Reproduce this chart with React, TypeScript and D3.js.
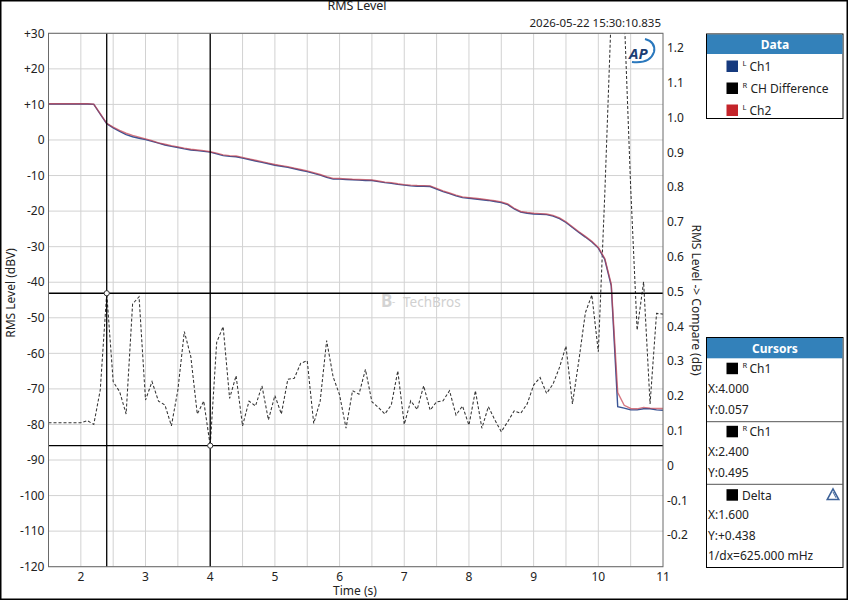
import React from "react";
import * as d3 from "d3";

const TIME = [1.5, 1.6, 1.7, 1.8, 1.9, 2.0, 2.1, 2.2, 2.3, 2.4, 2.5, 2.6, 2.7, 2.8, 2.9, 3.0, 3.1, 3.2, 3.3, 3.4, 3.5, 3.6, 3.7, 3.8, 3.9, 4.0, 4.1, 4.2, 4.3, 4.4, 4.5, 4.6, 4.7, 4.8, 4.9, 5.0, 5.1, 5.2, 5.3, 5.4, 5.5, 5.6, 5.7, 5.8, 5.9, 6.0, 6.1, 6.2, 6.3, 6.4, 6.5, 6.6, 6.7, 6.8, 6.9, 7.0, 7.1, 7.2, 7.3, 7.4, 7.5, 7.6, 7.7, 7.8, 7.9, 8.0, 8.1, 8.2, 8.3, 8.4, 8.5, 8.6, 8.7, 8.8, 8.9, 9.0, 9.1, 9.2, 9.3, 9.4, 9.5, 9.6, 9.7, 9.8, 9.9, 10.0, 10.1, 10.2, 10.3, 10.4, 10.5, 10.6, 10.7, 10.8, 10.9, 11.0];

// Ch1 (left axis, dBV)
const CH1 = [10.1, 10.1, 10.1, 10.1, 10.1, 10.1, 10.1, 10.0, 7.3, 4.6, 3.4, 2.4, 1.5, 0.9, 0.5, 0.1, -0.4, -0.9, -1.4, -1.8, -2.1, -2.5, -2.8, -3.0, -3.2, -3.4, -3.9, -4.4, -4.6, -4.7, -5.1, -5.5, -5.9, -6.3, -6.7, -7.1, -7.4, -7.7, -8.1, -8.5, -8.9, -9.4, -9.9, -10.5, -11.0, -11.0, -11.1, -11.2, -11.3, -11.4, -11.4, -11.7, -12.0, -12.2, -12.5, -12.7, -12.9, -13.0, -13.0, -13.1, -13.8, -14.5, -15.1, -15.7, -16.2, -16.4, -16.6, -16.8, -17.0, -17.3, -17.6, -18.2, -19.4, -20.3, -20.6, -20.8, -20.9, -21.0, -21.4, -22.1, -23.2, -24.6, -26.0, -27.3, -28.7, -30.4, -33.6, -41.0, -75.0, -75.4, -75.9, -75.9, -75.6, -75.6, -75.9, -76.0];

// Ch2 (left axis, dBV)
const CH2 = [10.2, 10.2, 10.2, 10.2, 10.2, 10.2, 10.2, 10.1, 7.4, 4.7, 3.6, 2.7, 1.9, 1.3, 0.8, 0.3, -0.2, -0.8, -1.2, -1.6, -1.95, -2.3, -2.6, -2.8, -3.0, -3.3, -3.7, -4.2, -4.4, -4.5, -4.9, -5.3, -5.7, -6.1, -6.5, -6.9, -7.2, -7.5, -7.9, -8.3, -8.7, -9.2, -9.7, -10.3, -10.8, -10.85, -10.95, -11.05, -11.1, -11.15, -11.25, -11.55, -11.85, -12.0, -12.3, -12.55, -12.7, -12.8, -12.85, -12.9, -13.6, -14.3, -14.9, -15.5, -16.0, -16.2, -16.4, -16.6, -16.85, -17.1, -17.4, -18.0, -19.2, -20.1, -20.4, -20.6, -20.7, -20.8, -21.2, -21.9, -23.0, -24.4, -25.8, -27.1, -28.5, -30.2, -33.3, -40.5, -71.0, -74.6, -75.5, -75.6, -75.2, -75.4, -75.5, -75.5];

// CH Difference (right axis, dB)
const DIFF = [0.123, 0.123, 0.123, 0.123, 0.123, 0.123, 0.129, 0.118, 0.217, 0.495, 0.241, 0.212, 0.148, 0.464, 0.485, 0.188, 0.241, 0.185, 0.174, 0.114, 0.217, 0.385, 0.313, 0.148, 0.185, 0.057, 0.354, 0.399, 0.193, 0.258, 0.114, 0.185, 0.171, 0.229, 0.131, 0.201, 0.148, 0.248, 0.251, 0.294, 0.301, 0.121, 0.185, 0.359, 0.255, 0.203, 0.107, 0.215, 0.205, 0.276, 0.183, 0.167, 0.148, 0.174, 0.272, 0.118, 0.186, 0.161, 0.229, 0.159, 0.183, 0.186, 0.215, 0.145, 0.171, 0.116, 0.215, 0.107, 0.169, 0.131, 0.097, 0.126, 0.157, 0.150, 0.177, 0.231, 0.253, 0.207, 0.234, 0.282, 0.343, 0.177, 0.303, 0.439, 0.490, 0.327, 0.78, 1.30, 2.0, 1.30, 0.80, 0.389, 0.528, 0.177, 0.437, 0.435];

const X_TICKS = [2, 3, 4, 5, 6, 7, 8, 9, 10, 11];
const X_GRID = [2, 2.5, 3, 3.5, 4, 4.5, 5, 5.5, 6, 6.5, 7, 7.5, 8, 8.5, 9, 9.5, 10, 10.5];
const Y_LEFT_TICKS = [30, 20, 10, 0, -10, -20, -30, -40, -50, -60, -70, -80, -90, -100, -110, -120];
const Y_LEFT_LABELS = ["+30", "+20", "+10", "0", "-10", "-20", "-30", "-40", "-50", "-60", "-70", "-80", "-90", "-100", "-110", "-120"];
const Y_RIGHT_TICKS = [1.2, 1.1, 1.0, 0.9, 0.8, 0.7, 0.6, 0.5, 0.4, 0.3, 0.2, 0.1, 0, -0.1, -0.2];
const Y_RIGHT_LABELS = ["1.2", "1.1", "1.0", "0.9", "0.8", "0.7", "0.6", "0.5", "0.4", "0.3", "0.2", "0.1", "0", "-0.1", "-0.2"];

const CURSOR_A = { x: 4.0, y: 0.057 };
const CURSOR_B = { x: 2.4, y: 0.495 };

const LEGEND = [
  { sup: "L", name: "Ch1", color: "#163a7e" },
  { sup: "R", name: "CH Difference", color: "#000000" },
  { sup: "L", name: "Ch2", color: "#c4242a" },
];

const FONT = "'Segoe UI', 'Noto Sans', 'Open Sans', sans-serif";

export default function App() {
  const L = 48.5, R = 663, T = 33.3, B = 566.7;
  const x = d3.scaleLinear().domain([1.5, 11]).range([L, R]);
  const yL = d3.scaleLinear().domain([-120, 30]).range([B, T]);
  const yR = d3.scaleLinear().domain([-0.2908, 1.242]).range([B, T]);

  const idx = TIME.map((_, i) => i);
  const lineCh1 = d3.line<number>().x((i) => x(TIME[i])).y((i) => yL(CH1[i]))(idx) || "";
  const lineCh2 = d3.line<number>().x((i) => x(TIME[i])).y((i) => yL(CH2[i]))(idx) || "";
  const lineDiff = d3.line<number>().x((i) => x(TIME[i])).y((i) => yR(DIFF[i]))(idx) || "";

  const textColor = "#222";

  return (
    <svg
      width={848}
      height={600}
      style={{ position: "absolute", left: 0, top: 0, background: "#fff" }}
      fontFamily={FONT}
    >
      <defs>
        <clipPath id="plotClip">
          <rect x={L} y={T} width={R - L} height={B - T} />
        </clipPath>
      </defs>
      <rect x={0} y={0} width={848} height={600} fill="#fff" />
      <rect x={0.75} y={0.75} width={846.5} height={598.5} fill="none" stroke="#000" strokeWidth={1.5} />

      {/* title */}
      <text x={357} y={10} fontSize={12.5} textAnchor="middle" fill={textColor}>RMS Level</text>
      <text x={661} y={26.5} fontSize={11.5} textAnchor="end" fill={textColor}>2026-05-22 15:30:10.835</text>

      {/* grid */}
      {X_GRID.map((g) => (
        <line key={"xg" + g} x1={x(g)} x2={x(g)} y1={T} y2={B} stroke="#d2d2d2" strokeWidth={1} />
      ))}
      {Y_LEFT_TICKS.map((g) => (
        <line key={"yg" + g} x1={L} x2={R} y1={yL(g)} y2={yL(g)} stroke="#d2d2d2" strokeWidth={1} />
      ))}

      {/* watermark */}
      <g opacity={0.9}>
        <text x={381} y={307} fontSize={17} fontWeight="bold" fill="#cfcfcf">B</text>
        <text x={392} y={305} fontSize={10} fill="#cfcfcf">-</text>
        <text x={403} y={306.5} fontSize={13.5} fill="#cccccc">TechBros</text>
      </g>

      {/* AP logo */}
      <g>
        <path d="M 632 62 Q 650 64 654 52 Q 656 42 645 39" fill="none" stroke="#2a78bd" strokeWidth={2} />
        <text x={629} y={59} fontSize={15} fontWeight="bold" fontStyle="italic" fill="#1b3d72">AP</text>
      </g>

      {/* data */}
      <g clipPath="url(#plotClip)">
        <path d={lineDiff} fill="none" stroke="#333" strokeWidth={1.05} strokeDasharray="3,2" />
        <path d={lineCh1} fill="none" stroke="#3a5596" strokeWidth={1.4} />
        <path d={lineCh2} fill="none" stroke="#c4404e" strokeWidth={1.4} strokeOpacity={0.7} />
      </g>

      {/* cursors */}
      {[CURSOR_A, CURSOR_B].map((c, i) => (
        <g key={"cur" + i}>
          <line x1={x(c.x)} x2={x(c.x)} y1={T} y2={B} stroke="#000" strokeWidth={1.3} />
          <line x1={L} x2={R} y1={yR(c.y)} y2={yR(c.y)} stroke="#000" strokeWidth={1.3} />
          <circle cx={x(c.x)} cy={yR(c.y)} r={2.6} fill="#fff" stroke="#333" strokeWidth={1} />
        </g>
      ))}

      {/* plot border */}
      <rect x={L} y={T} width={R - L} height={B - T} fill="none" stroke="#6a6a6a" strokeWidth={1} />

      {/* left ticks */}
      {Y_LEFT_TICKS.map((t, i) => (
        <text key={"yl" + t} x={44.5} y={yL(t) + 4.2} fontSize={12} textAnchor="end" fill={textColor}>
          {Y_LEFT_LABELS[i]}
        </text>
      ))}
      {/* right ticks */}
      {Y_RIGHT_TICKS.map((t, i) => (
        <text key={"yr" + t} x={667} y={yR(t) + 4.2} fontSize={12} textAnchor="start" fill={textColor}>
          {Y_RIGHT_LABELS[i]}
        </text>
      ))}
      {/* x ticks */}
      {X_TICKS.map((t) => (
        <text key={"xt" + t} x={x(t)} y={581} fontSize={12} textAnchor="middle" fill={textColor}>
          {t}
        </text>
      ))}
      <text x={355} y={594.5} fontSize={12} textAnchor="middle" fill={textColor}>Time (s)</text>
      <text transform="translate(15,293) rotate(-90)" fontSize={12} textAnchor="middle" fill={textColor}>
        RMS Level (dBV)
      </text>
      <text transform="translate(692,300) rotate(90)" fontSize={12} textAnchor="middle" fill={textColor}>
        RMS Level -&gt; Compare (dB)
      </text>

      {/* Data legend */}
      <g>
        <rect x={706.5} y={34} width={136.5} height={84.5} fill="#fff" stroke="#000" strokeWidth={1} />
        <rect x={707} y={34.5} width={135.5} height={19.5} fill="#3381ba" />
        <text x={775} y={48.5} fontSize={12} fontWeight="bold" textAnchor="middle" fill="#fff">Data</text>
        {LEGEND.map((d, i) => {
          const cy = 66 + i * 22;
          return (
            <g key={"lg" + i}>
              <rect x={726.5} y={cy - 5.5} width={11.5} height={11.5} fill={d.color} />
              <text x={742.5} y={cy - 0.5} fontSize={7.5} fill={textColor}>{d.sup}</text>
              <text x={i === 1 ? 750.5 : 749.5} y={cy + 4.5} fontSize={12} fill={textColor}>{d.name}</text>
            </g>
          );
        })}
      </g>

      {/* Cursors panel */}
      <g>
        <rect x={706.5} y={337.5} width={136.5} height={230} fill="#fff" stroke="#000" strokeWidth={1} />
        <rect x={707} y={338} width={135.5} height={20.3} fill="#3381ba" />
        <text x={775} y={352.5} fontSize={12} fontWeight="bold" textAnchor="middle" fill="#fff">Cursors</text>

        <rect x={726.5} y={362.7} width={11.5} height={11.5} fill="#000" />
        <text x={742.5} y={367.5} fontSize={7.5} fill={textColor}>R</text>
        <text x={749.5} y={373} fontSize={12} fill={textColor}>Ch1</text>
        <text x={708} y={393} fontSize={12} fill={textColor}>X:4.000</text>
        <text x={708} y={413.5} fontSize={12} fill={textColor}>Y:0.057</text>
        <line x1={707} x2={843} y1={421.7} y2={421.7} stroke="#555" strokeWidth={1} />

        <rect x={726.5} y={425.8} width={11.5} height={11.5} fill="#000" />
        <text x={742.5} y={430.5} fontSize={7.5} fill={textColor}>R</text>
        <text x={749.5} y={436} fontSize={12} fill={textColor}>Ch1</text>
        <text x={708} y={455.5} fontSize={12} fill={textColor}>X:2.400</text>
        <text x={708} y={476.5} fontSize={12} fill={textColor}>Y:0.495</text>
        <line x1={707} x2={843} y1={484.3} y2={484.3} stroke="#555" strokeWidth={1} />

        <rect x={726.5} y={489.2} width={11.5} height={11.5} fill="#000" />
        <text x={742} y={499.5} fontSize={12} fill={textColor}>Delta</text>
        <path d="M 833 488.8 L 838.8 499.6 L 827.2 499.6 Z" fill="none" stroke="#3d6298" strokeWidth={1.5} />
        <path d="M 833 492 L 836 497.8" fill="none" stroke="#3d6298" strokeWidth={1} />
        <text x={708} y={518.5} fontSize={12} fill={textColor}>X:1.600</text>
        <text x={708} y={539.5} fontSize={12} fill={textColor}>Y:+0.438</text>
        <text x={708} y={560} fontSize={12} fill={textColor}>1/dx=625.000 mHz</text>
      </g>
    </svg>
  );
}
